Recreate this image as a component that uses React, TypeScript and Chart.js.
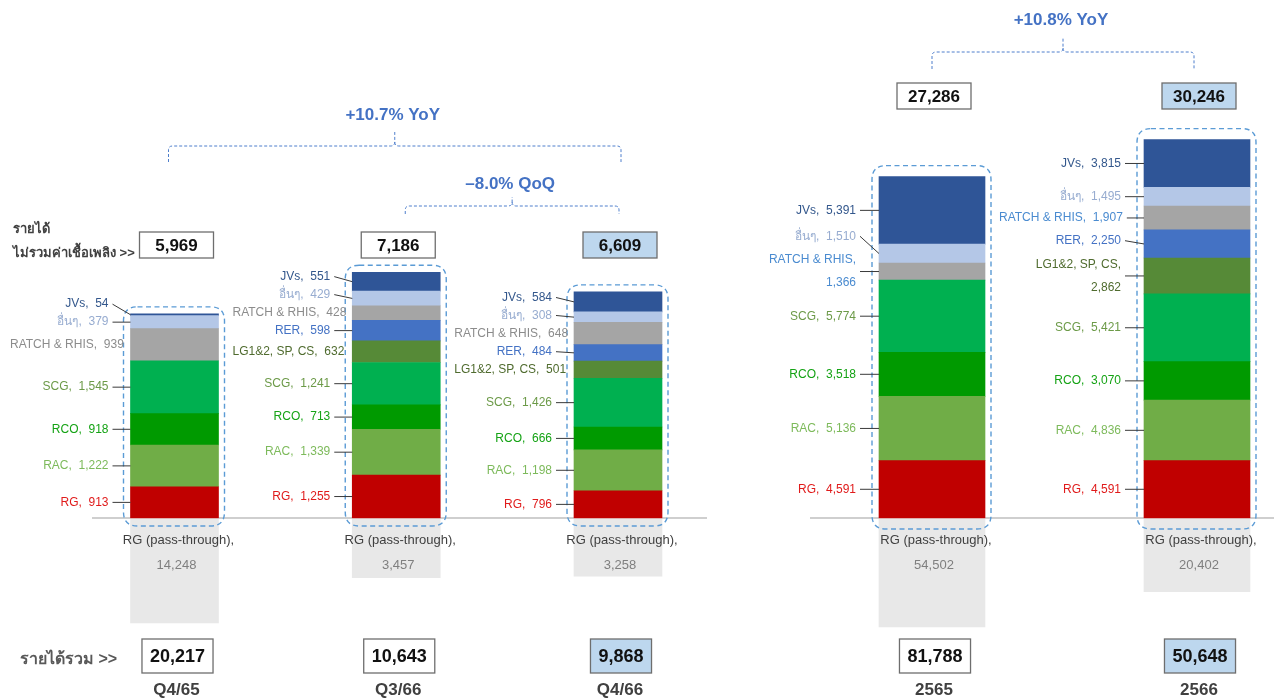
import React, { useEffect, useRef } from 'react';
import { Chart, registerables } from 'chart.js';

Chart.register(...registerables);

// ---------------- data ----------------
const periods = ['Q4/65', 'Q3/66', 'Q4/66', '2565', '2566'];
const seriesNames = ['RG', 'RAC', 'RCO', 'SCG', 'LG1&2, SP, CS', 'RER', 'RATCH & RHIS', 'อื่นๆ', 'JVs'];
const rgValues = [913, 1255, 796, 4591, 4591];
const racValues = [1222, 1339, 1198, 5136, 4836];
const rcoValues = [918, 713, 666, 3518, 3070];
const scgValues = [1545, 1241, 1426, 5774, 5421];
const lgValues: (number | null)[] = [null, 632, 501, null, 2862];
const rerValues: (number | null)[] = [null, 598, 484, null, 2250];
const ratchValues = [939, 428, 648, 1366, 1907];
const othersValues = [379, 429, 308, 1510, 1495];
const jvsValues = [54, 551, 584, 5391, 3815];
const passThroughValues = [14248, 3457, 3258, 54502, 20402];
const revenueExFuel = [5969, 7186, 6609, 27286, 30246];
const totalRevenue = [20217, 10643, 9868, 81788, 50648];
const highlightedPeriods = ['Q4/66', '2566'];
const growthNotes = [
  { from: 'Q4/65', to: 'Q4/66', text: '+10.7% YoY' },
  { from: 'Q3/66', to: 'Q4/66', text: '–8.0% QoQ' },
  { from: '2565', to: '2566', text: '+10.8% YoY' },
];
const wrappedLabels = ['RATCH & RHIS|2565', 'LG1&2, SP, CS|2566'];

const seriesValues: (number | null)[][] = [
  rgValues, racValues, rcoValues, scgValues, lgValues, rerValues, ratchValues, othersValues, jvsValues,
];

// ---------------- styles ----------------
const seriesColors = ['#C00000', '#70AD47', '#009A00', '#00B050', '#568A37', '#4472C4', '#A5A5A5', '#B4C7E7', '#2F5597'];
const labelColors = ['#E01B1B', '#7DBA5B', '#15A315', '#6C9A48', '#4F6B2E', '#4472C4', '#8C8C8C', '#97ACD0', '#33578C'];
const W = 1274;
const H = 700;
const FONT = '"Liberation Sans", Arial, "DejaVu Sans", "Noto Sans", sans-serif';
const LINE_GAP = 23;

// the reference draws the pass-through bars on a compressed (broken) scale
const compress = (v: number) => Math.pow(v, 0.4);
const fmt = (v: number) => v.toLocaleString('en-US');

type Level = { textY: number; top: number; mid: number; bottom: number; dxFrom: number; dxTo: number };
type Panel = {
  periods: string[];
  areaLeft: number;
  areaRight: number;
  barThickness: number;
  zeroY: number;
  pxPerUnit: number;
  passScale: number;
  baselineFrom: number;
  baselineTo: number;
  rectTopPad: number;
  rectBottomPad: number;
  topBoxY: number;
  bottomBoxY: number;
  labelGap: number;
  firstLabelMinLeft: number;
  ratchLabelColor: string;
  levels: Level[];
  sideTitles: boolean;
};

const panels: Panel[] = [
  {
    periods: ['Q4/65', 'Q3/66', 'Q4/66'],
    areaLeft: 174.5,
    areaRight: 618,
    barThickness: 88,
    zeroY: 518,
    pxPerUnit: 0.0342,
    passScale: 2.29,
    baselineFrom: 92,
    baselineTo: 707,
    rectTopPad: 7,
    rectBottomPad: 8,
    topBoxY: 232,
    bottomBoxY: 639,
    labelGap: 22,
    firstLabelMinLeft: 10,
    ratchLabelColor: '#8C8C8C',
    levels: [
      { textY: 115, top: 132, mid: 146, bottom: 162, dxFrom: -6, dxTo: 3 },
      { textY: 184, top: 197, mid: 206, bottom: 214, dxFrom: 9, dxTo: 1 },
    ],
    sideTitles: true,
  },
  {
    periods: ['2565', '2566'],
    areaLeft: 932,
    areaRight: 1197,
    barThickness: 106,
    zeroY: 518,
    pxPerUnit: 0.01251,
    passScale: 1.39,
    baselineFrom: 810,
    baselineTo: 1274,
    rectTopPad: 11,
    rectBottomPad: 11,
    topBoxY: 83,
    bottomBoxY: 639,
    labelGap: 23,
    firstLabelMinLeft: 740,
    ratchLabelColor: '#4A8BD0',
    levels: [{ textY: 20, top: 37, mid: 52, bottom: 69, dxFrom: 0, dxTo: -3 }],
    sideTitles: false,
  },
];

function roundRectPath(ctx: CanvasRenderingContext2D, x: number, y: number, w: number, h: number, r: number) {
  ctx.beginPath();
  ctx.moveTo(x + r, y);
  ctx.lineTo(x + w - r, y);
  ctx.quadraticCurveTo(x + w, y, x + w, y + r);
  ctx.lineTo(x + w, y + h - r);
  ctx.quadraticCurveTo(x + w, y + h, x + w - r, y + h);
  ctx.lineTo(x + r, y + h);
  ctx.quadraticCurveTo(x, y + h, x, y + h - r);
  ctx.lineTo(x, y + r);
  ctx.quadraticCurveTo(x, y, x + r, y);
  ctx.closePath();
}

function drawBox(ctx: CanvasRenderingContext2D, cx: number, y: number, w: number, h: number, text: string, fill: string, font: string) {
  ctx.save();
  ctx.fillStyle = fill;
  ctx.fillRect(cx - w / 2, y, w, h);
  ctx.strokeStyle = '#6E6E6E';
  ctx.lineWidth = 1.3;
  ctx.strokeRect(cx - w / 2, y, w, h);
  ctx.fillStyle = '#111111';
  ctx.font = font;
  ctx.textAlign = 'center';
  ctx.textBaseline = 'middle';
  ctx.fillText(text, cx, y + h / 2 + 1);
  ctx.restore();
}

function drawBrace(ctx: CanvasRenderingContext2D, x1: number, x2: number, lv: Level, text: string) {
  const xm = (x1 + x2) / 2;
  const r = 4;
  ctx.save();
  ctx.strokeStyle = '#4F7FCC';
  ctx.lineWidth = 1;
  ctx.setLineDash([3, 2]);
  ctx.beginPath();
  ctx.moveTo(x1, lv.bottom);
  ctx.lineTo(x1, lv.mid + r);
  ctx.quadraticCurveTo(x1, lv.mid, x1 + r, lv.mid);
  ctx.lineTo(xm - r, lv.mid);
  ctx.quadraticCurveTo(xm, lv.mid, xm, lv.mid - r);
  ctx.lineTo(xm, lv.top);
  ctx.moveTo(xm, lv.mid - r);
  ctx.quadraticCurveTo(xm, lv.mid, xm + r, lv.mid);
  ctx.lineTo(x2 - r, lv.mid);
  ctx.quadraticCurveTo(x2, lv.mid, x2, lv.mid + r);
  ctx.lineTo(x2, lv.bottom);
  ctx.stroke();
  ctx.setLineDash([]);
  ctx.fillStyle = '#4472C4';
  ctx.font = `bold 17px ${FONT}`;
  ctx.textAlign = 'center';
  ctx.textBaseline = 'middle';
  ctx.fillText(text, xm - 2, lv.textY);
  ctx.restore();
}

function drawAnnotations(chart: any, panel: Panel) {
  const ctx: CanvasRenderingContext2D = chart.ctx;
  const yScale = chart.scales.y;
  const zero = yScale.getPixelForValue(0);
  const meta0 = chart.getDatasetMeta(0);

  const geo = panel.periods.map((p, j) => {
    const el: any = meta0.data[j];
    const g = periods.indexOf(p);
    const total = seriesValues.reduce((s: number, a) => s + (a[g] ?? 0), 0);
    return {
      p,
      g,
      cx: el.x as number,
      w: el.width as number,
      left: el.x - el.width / 2,
      right: el.x + el.width / 2,
      top: yScale.getPixelForValue(total) as number,
    };
  });

  ctx.save();
  geo.forEach((b, j) => {
    // dashed rounded frame
    ctx.save();
    ctx.strokeStyle = '#5B9BD5';
    ctx.lineWidth = 1.4;
    ctx.setLineDash([5, 3.5]);
    const fx = b.left - 7;
    const fy = b.top - panel.rectTopPad;
    roundRectPath(ctx, fx, fy, b.w + 13, zero + panel.rectBottomPad - fy, 14);
    ctx.stroke();
    ctx.restore();

    // segment labels
    let cum = 0;
    const items: { i: number; center: number; pos: number; lines: string[]; v: number }[] = [];
    seriesValues.forEach((arr, i) => {
      const v = arr[b.g];
      if (v == null) return;
      const y0 = yScale.getPixelForValue(cum);
      const y1 = yScale.getPixelForValue(cum + v);
      cum += v;
      const wrap = wrappedLabels.includes(`${seriesNames[i]}|${b.p}`);
      const lines = wrap ? [`${seriesNames[i]},`, fmt(v)] : [`${seriesNames[i]},  ${fmt(v)}`];
      const c = (y0 + y1) / 2;
      items.push({ i, center: c, pos: c, lines, v });
    });
    for (let k = 1; k < items.length; k++) {
      const prev = items[k - 1];
      const cur = items[k];
      const sep = 18 + ((prev.lines.length - 1) + (cur.lines.length - 1)) * LINE_GAP * 0.75;
      cur.pos = Math.min(cur.center, prev.pos - sep);
    }
    ctx.font = `12px ${FONT}`;
    const minLeft = j === 0 ? panel.firstLabelMinLeft : geo[j - 1].right + 14;
    items.forEach((it) => {
      const tw = Math.max(...it.lines.map((l) => ctx.measureText(l).width));
      let tr = b.left - panel.labelGap;
      if (tr - tw < minLeft) tr = Math.min(minLeft + tw, b.left - 3);
      const color = seriesNames[it.i] === 'RATCH & RHIS' ? panel.ratchLabelColor : labelColors[it.i];
      ctx.fillStyle = color;
      ctx.textAlign = 'right';
      ctx.textBaseline = 'middle';
      const n = it.lines.length;
      it.lines.forEach((l, k) => {
        ctx.fillText(l, tr, it.pos - ((n - 1) * LINE_GAP) / 2 + k * LINE_GAP);
      });
      if (tr + 4 < b.left - 4) {
        ctx.strokeStyle = '#3A3A3A';
        ctx.lineWidth = 1;
        ctx.beginPath();
        ctx.moveTo(tr + 4, it.pos);
        ctx.lineTo(b.left, it.center);
        ctx.stroke();
      }
    });

    // pass-through labels
    ctx.textAlign = 'center';
    ctx.textBaseline = 'middle';
    ctx.font = `13px ${FONT}`;
    ctx.fillStyle = '#404040';
    ctx.fillText('RG (pass-through),', b.cx + 4, zero + 22);
    ctx.fillStyle = '#7F7F7F';
    ctx.fillText(fmt(passThroughValues[b.g]), b.cx + 2, zero + 47);

    const hl = highlightedPeriods.includes(b.p);
    // top box: revenue excluding fuel
    drawBox(ctx, b.cx + 2, panel.topBoxY, 74, 26, fmt(revenueExFuel[b.g]), hl ? '#BDD7EE' : '#FFFFFF', `bold 17px ${FONT}`);
    // bottom box: total revenue
    ctx.font = `bold 18px ${FONT}`;
    const bw = ctx.measureText(fmt(totalRevenue[b.g])).width + 16;
    drawBox(ctx, b.cx + 3, panel.bottomBoxY, bw, 34, fmt(totalRevenue[b.g]), hl ? '#BDD7EE' : '#FFFFFF', `bold 18px ${FONT}`);
    // period label
    ctx.fillStyle = '#404040';
    ctx.font = `bold 17px ${FONT}`;
    ctx.textAlign = 'center';
    ctx.textBaseline = 'middle';
    ctx.fillText(b.p, b.cx + 2, 690);
  });

  // growth braces
  let li = 0;
  growthNotes.forEach((gn) => {
    const a = geo.find((b) => b.p === gn.from);
    const c = geo.find((b) => b.p === gn.to);
    if (!a || !c) return;
    const lv = panel.levels[li++];
    drawBrace(ctx, a.cx + lv.dxFrom, c.cx + lv.dxTo, lv, gn.text);
  });

  if (panel.sideTitles) {
    ctx.fillStyle = '#404040';
    ctx.textAlign = 'left';
    ctx.textBaseline = 'middle';
    ctx.font = `bold 13px ${FONT}`;
    ctx.fillText('รายได้', 13, 229);
    ctx.fillText('ไม่รวมค่าเชื้อเพลิง >>', 13, 253);
    ctx.fillStyle = '#595959';
    ctx.font = `bold 16px ${FONT}`;
    ctx.fillText('รายได้รวม >>', 20, 660);
  }
  ctx.restore();
}

function buildConfig(panel: Panel): any {
  const idx = panel.periods.map((p) => periods.indexOf(p));
  return {
    type: 'bar',
    data: {
      labels: panel.periods,
      datasets: [
        ...seriesValues.map((arr, i) => ({
          label: seriesNames[i],
          data: idx.map((g) => arr[g]),
          backgroundColor: seriesColors[i],
          borderWidth: 0,
          barThickness: panel.barThickness,
          stack: 'rev',
          yAxisID: 'y',
          clip: false,
        })),
        {
          label: 'RG (pass-through)',
          data: idx.map((g) => -compress(passThroughValues[g])),
          backgroundColor: '#E8E8E8',
          borderWidth: 0,
          barThickness: panel.barThickness,
          stack: 'rev',
          yAxisID: 'yp',
          clip: false,
        },
      ],
    },
    options: {
      responsive: false,
      animation: false,
      events: [],
      layout: { padding: { left: panel.areaLeft, right: W - panel.areaRight, top: 0, bottom: 0 } },
      scales: {
        x: { type: 'category', display: false, offset: false, stacked: true, grid: { display: false } },
        y: {
          type: 'linear',
          display: false,
          stacked: true,
          min: -(H - panel.zeroY) / panel.pxPerUnit,
          max: panel.zeroY / panel.pxPerUnit,
        },
        yp: {
          type: 'linear',
          display: false,
          stacked: true,
          min: -(H - panel.zeroY) / panel.passScale,
          max: panel.zeroY / panel.passScale,
        },
      },
      plugins: { legend: { display: false }, tooltip: { enabled: false } },
    },
    plugins: [
      {
        id: 'annot',
        beforeDatasetsDraw(chart: any) {
          const ctx: CanvasRenderingContext2D = chart.ctx;
          const zero = chart.scales.y.getPixelForValue(0);
          ctx.save();
          ctx.strokeStyle = '#BFBFBF';
          ctx.lineWidth = 1.5;
          ctx.beginPath();
          ctx.moveTo(panel.baselineFrom, zero);
          ctx.lineTo(panel.baselineTo, zero);
          ctx.stroke();
          ctx.restore();
        },
        afterDatasetsDraw(chart: any) {
          drawAnnotations(chart, panel);
        },
      },
    ],
  };
}

function PanelCanvas({ panel }: { panel: Panel }) {
  const ref = useRef<HTMLCanvasElement>(null);
  useEffect(() => {
    if (!ref.current) return;
    const chart = new Chart(ref.current, buildConfig(panel));
    return () => chart.destroy();
  }, [panel]);
  return (
    <canvas
      ref={ref}
      width={W}
      height={H}
      style={{ position: 'absolute', left: 0, top: 0, width: W, height: H }}
    />
  );
}

export default function App() {
  return (
    <div
      style={{
        position: 'fixed',
        left: 0,
        top: 0,
        width: W,
        height: H,
        background: '#FFFFFF',
        overflow: 'hidden',
      }}
    >
      {panels.map((p, i) => (
        <PanelCanvas key={i} panel={p} />
      ))}
    </div>
  );
}
